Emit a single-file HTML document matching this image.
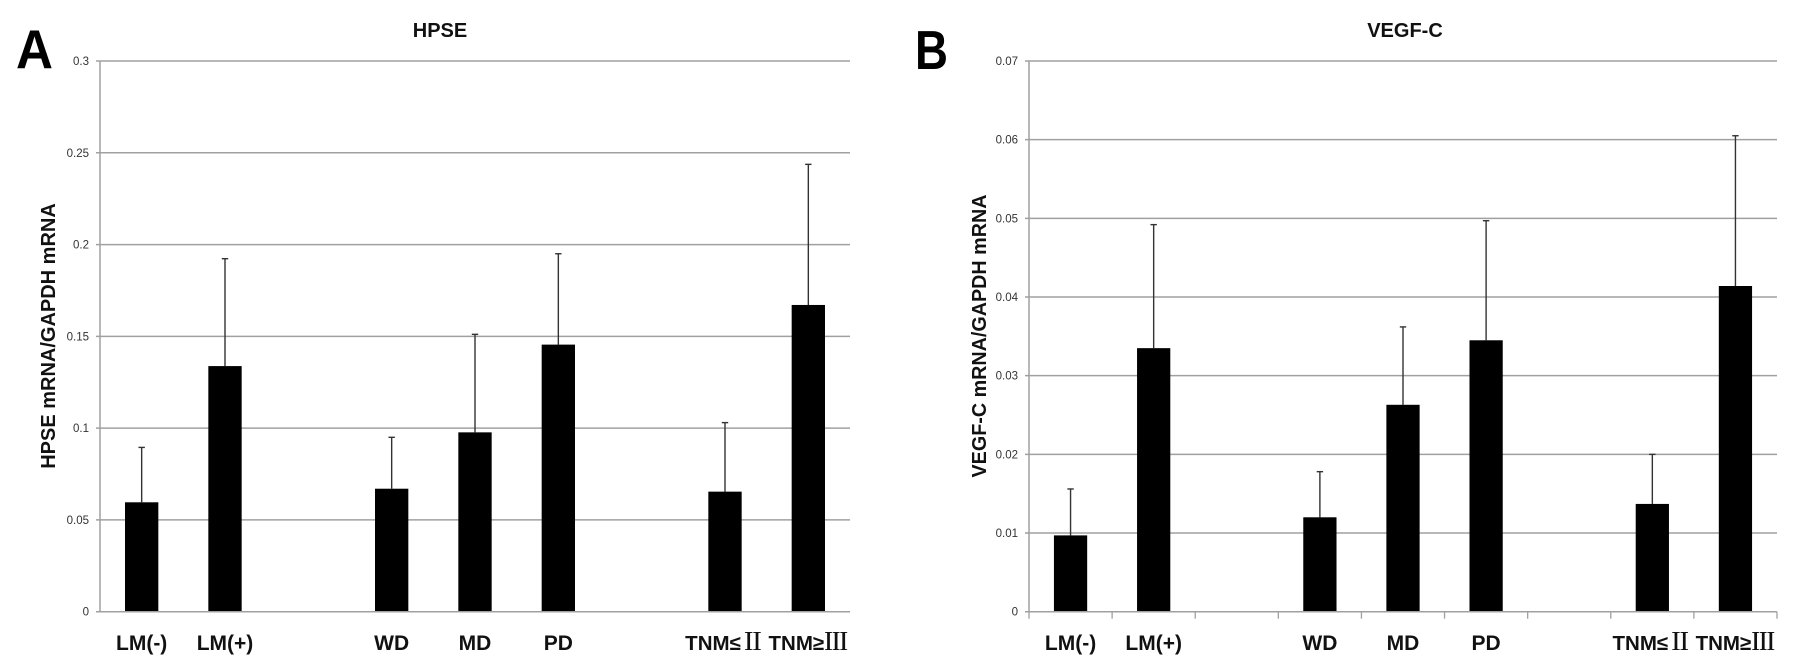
<!DOCTYPE html>
<html lang="en">
<head>
<meta charset="utf-8">
<title>HPSE and VEGF-C mRNA expression</title>
<style>
html,body{margin:0;padding:0;background:#fff;width:1795px;height:672px;overflow:hidden}
svg{display:block}
text{font-family:"Liberation Sans","Noto Sans CJK SC",sans-serif}
.tick{font-size:11.5px;fill:#333;text-anchor:end}
.cat{font-size:21px;font-weight:bold;fill:#111;text-anchor:middle}
.cat-long{font-size:20.5px}
.roman{font-family:"Noto Serif CJK SC","Liberation Serif",serif;font-weight:600;font-size:24px}
.title{font-size:20px;font-weight:bold;fill:#111;text-anchor:middle}
.ytitle{font-size:20px;font-weight:bold;fill:#111;text-anchor:middle}
.panel{font-size:55px;font-weight:bold;fill:#000}
</style>
</head>
<body>
<svg id="figure" xmlns="http://www.w3.org/2000/svg" width="1795" height="672" viewBox="0 0 1795 672">
  <rect x="0" y="0" width="1795" height="672" fill="#fff"/>
  <text class="panel" x="16" y="68" textLength="37" lengthAdjust="spacingAndGlyphs">A</text>
  <text class="panel" x="915" y="69" textLength="33" lengthAdjust="spacingAndGlyphs">B</text>
  <text class="title" x="440" y="37">HPSE</text>
  <text class="title" x="1405" y="37">VEGF-C</text>
  <text class="ytitle" transform="translate(55,336) rotate(-90)">HPSE mRNA/GAPDH mRNA</text>
  <text class="ytitle" transform="translate(986,336) rotate(-90)" textLength="283" lengthAdjust="spacingAndGlyphs">VEGF-C mRNA/GAPDH mRNA</text>
  <g id="chart-a"></g>
  <g id="chart-b"></g>
</svg>
<script>
// Shared categories (blank slots separate the groups)
var categories = ["LM(-)", "LM(+)", "", "WD", "MD", "PD", "", "TNM≤Ⅱ", "TNM≥Ⅲ"];

// Panel A: HPSE
var hpseMeans = [0.0596, 0.1338, null, 0.0670, 0.0977, 0.1455, null, 0.0654, 0.1671];
var hpseErrorTops = [0.0895, 0.1923, null, 0.0950, 0.1511, 0.1950, null, 0.1030, 0.2437];
var hpseTicks = [0, 0.05, 0.1, 0.15, 0.2, 0.25, 0.3];
var hpseTickLabels = ["0", "0.05", "0.1", "0.15", "0.2", "0.25", "0.3"];

// Panel B: VEGF-C
var vegfMeans = [0.0097, 0.0335, null, 0.0120, 0.0263, 0.0345, null, 0.0137, 0.0414];
var vegfErrorTops = [0.0156, 0.0492, null, 0.0178, 0.0362, 0.0497, null, 0.0200, 0.0605];
var vegfTicks = [0, 0.01, 0.02, 0.03, 0.04, 0.05, 0.06, 0.07];
var vegfTickLabels = ["0", "0.01", "0.02", "0.03", "0.04", "0.05", "0.06", "0.07"];

var NS = "http://www.w3.org/2000/svg";

function make(parent, tag, attrs) {
  var el = document.createElementNS(NS, tag);
  for (var k in attrs) { el.setAttribute(k, attrs[k]); }
  parent.appendChild(el);
  return el;
}

function drawChart(rootId, box, means, tops, ticks, tickLabels, maxVal, showXTicks) {
  var root = document.getElementById(rootId);
  var gridColor = "#a0a0a0";
  var n = categories.length;
  var pitch = (box.right - box.left) / n;
  var barWidth = pitch * 0.4;

  function xScale(i) { return box.left + (i + 0.5) * pitch; }
  function yScale(v) { return box.bottom - (v / maxVal) * (box.bottom - box.top); }

  ticks.forEach(function (t, i) {
    var y = yScale(t);
    var line = make(root, "line", { x1: box.left - 4, x2: box.right, y1: y, y2: y, stroke: gridColor, "stroke-width": 1.5 });
    
    
    var label = make(root, "text", { x: box.left - 11, y: y + 4, "class": "tick" });
    label.textContent = tickLabels[i];
    
    
  });

  var yAxis = make(root, "line", { x1: box.left, x2: box.left, y1: box.top, y2: box.bottom, stroke: gridColor, "stroke-width": 1.5 });
  
  

  if (showXTicks) {
    for (var b = 0; b <= n; b++) {
      var tx = box.left + b * pitch;
      var xt = make(root, "line", { x1: tx, x2: tx, y1: box.bottom, y2: box.bottom + 7, stroke: gridColor, "stroke-width": 1.3 });
      
      
    }
  }

  categories.forEach(function (cat, i) {
    var cx = xScale(i);
    if (means[i] !== null) {
      var eb = make(root, "line", { x1: cx, x2: cx, y1: yScale(means[i]), y2: yScale(tops[i]), stroke: "#333", "stroke-width": 1.4 });
      
      
      var cap = make(root, "line", { x1: cx - 3.2, x2: cx + 3.2, y1: yScale(tops[i]), y2: yScale(tops[i]), stroke: "#333", "stroke-width": 1.4 });
      
      
      var bar = make(root, "rect", { x: cx - barWidth / 2, y: yScale(means[i]), width: barWidth, height: box.bottom - yScale(means[i]), fill: "#000" });
      
      
    }
    if (cat) {
      var label = make(root, "text", { x: cx, y: 650, "class": "cat" });
      
      
      var m = cat.match(/^(.*?)([ⅡⅢ])$/);
      if (m) {
        label.setAttribute("class", "cat cat-long");
        label.appendChild(document.createTextNode(m[1]));
        var ts = make(label, "tspan", { "class": "roman" });
        ts.textContent = m[2];
      } else {
        label.textContent = cat;
      }
    }
  });

  var xAxis = make(root, "line", { x1: box.left, x2: box.right, y1: box.bottom, y2: box.bottom, stroke: gridColor, "stroke-width": 1.5 });
  
  
}

drawChart("chart-a", { left: 100, right: 850, top: 61, bottom: 611.7 }, hpseMeans, hpseErrorTops, hpseTicks, hpseTickLabels, 0.3, false);
drawChart("chart-b", { left: 1029, right: 1777, top: 61, bottom: 611.7 }, vegfMeans, vegfErrorTops, vegfTicks, vegfTickLabels, 0.07, true);
</script>
</body>
</html>
